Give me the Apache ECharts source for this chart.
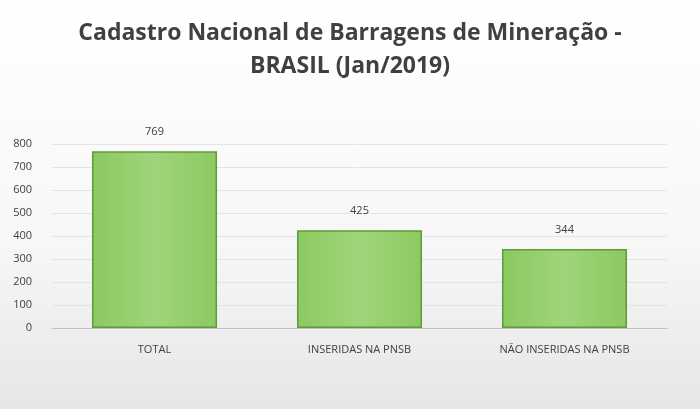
<!DOCTYPE html>
<html><head><meta charset="utf-8">
<script src="https://cdn.jsdelivr.net/npm/echarts@6/dist/echarts.min.js"></script>
<style>html,body{margin:0;padding:0}#c{width:700px;height:409px}</style>
</head><body><div id="c"></div>
<script>
const categories = ['TOTAL', 'INSERIDAS NA PNSB', 'NÃO INSERIDAS NA PNSB'];
const values = [769, 425, 344];
const yTicks = [0, 100, 200, 300, 400, 500, 600, 700, 800];

const chart = echarts.init(document.getElementById('c'));
chart.setOption({
  backgroundColor: {type:'linear',x:0,y:0,x2:0,y2:1,colorStops:[{offset:0,color:'#ffffff'},{offset:0.6,color:'#f7f7f7'},{offset:1,color:'#e6e6e6'}]},
  title: {
    text: 'Cadastro Nacional de Barragens de Mineração -\nBRASIL (Jan/2019)',
    left: 'center', top: 12,
    textStyle: {fontFamily: 'Open Sans', fontSize: 23, fontWeight: 'bold', color: '#404040', lineHeight: 33}
  },
  grid: {left: 52, right: 33, top: 144, bottom: 81},
  xAxis: {
    type: 'category', data: categories,
    axisLine: {lineStyle: {color: '#bfbfbf'}}, axisTick: {show: false},
    axisLabel: {color: '#404040', fontSize: 11, margin: 16, fontFamily: 'Open Sans'}
  },
  yAxis: {
    type: 'value', min: yTicks[0], max: yTicks[yTicks.length-1], interval: 100,
    axisLabel: {color: '#404040', fontSize: 11, fontFamily: 'Open Sans', margin: 20},
    splitLine: {lineStyle: {color: '#e4e4e4'}}
  },
  series: [{
    type: 'bar', data: values, barWidth: '61%',
    itemStyle: {
      color: {type:'linear',x:0,y:0,x2:1,y2:0,colorStops:[{offset:0,color:'#8cc960'},{offset:0.5,color:'#9fd57a'},{offset:1,color:'#8cc960'}]},
      borderColor: '#5f9a3c', borderWidth: 1.5
    },
    label: {show: true, position: 'top', distance: 14, color: '#404040', fontSize: 11, fontFamily: 'Open Sans'}
  }]
});
</script></body></html>
